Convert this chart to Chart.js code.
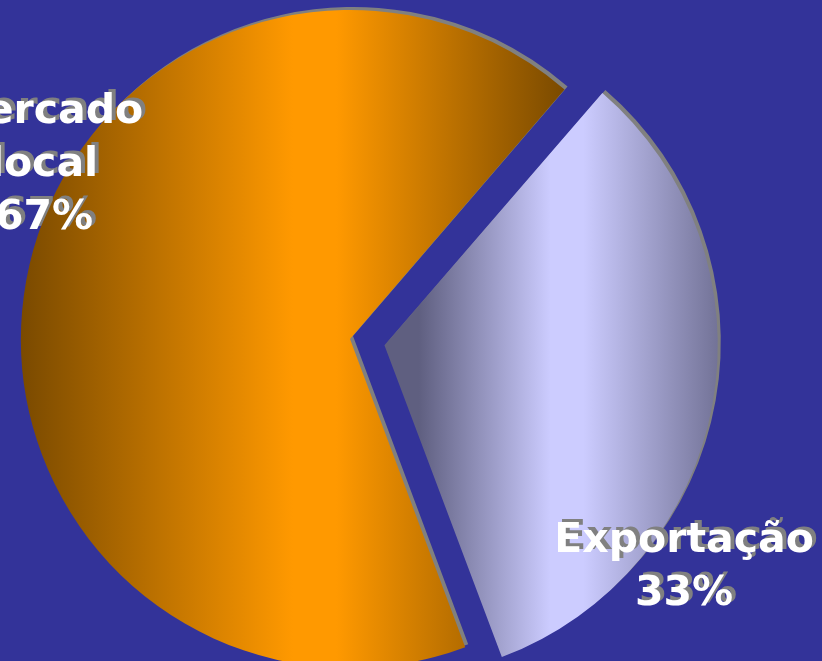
<!DOCTYPE html>
<html>
<head>
<meta charset="utf-8">
<script src="https://cdn.jsdelivr.net/npm/chart.js@4"></script>
<style>
  html, body { margin: 0; padding: 0; background: #333399; overflow: hidden; }
  #wrap { position: relative; width: 822px; height: 661px; }
</style>
</head>
<body>
<div id="wrap"><canvas id="pie"></canvas></div>
<script>
// chart data
const categories = ['Mercado local', 'Exportação'];
const values = [67, 33];
const labelLines = [['Mercado', 'local'], ['Exportação']];

// look
const bgColor = '#333399';
const shadowColor = '#808080';
const edgeColors = ['#7A4A00', '#5F5F80'];
const midColors = ['#FF9900', '#CCCCFF'];
const lightStops = [[0.5, 0.58], [0.4, 0.5]];
const explode = [0, 140];          // chart.js moves the slice by offset/4
const pieRadius = 329;
const startRotation = 159.5;       // degrees, clockwise from 12 o'clock
const labelAnchors = [[44, 123], [684, 552]];   // first baseline of each label
const lineHeight = 53;

const total = values.reduce((a, b) => a + b, 0);

// horizontal gradient over each slice's own bounding box
function sliceGradient(chart, i) {
    const ca = chart.chartArea;
    if (!ca) return midColors[i];
    const cx = (ca.left + ca.right) / 2;
    let before = 0;
    for (let k = 0; k < i; k++) before += values[k];
    const a0 = -Math.PI / 2 + startRotation * Math.PI / 180 + before / total * 2 * Math.PI;
    const a1 = a0 + values[i] / total * 2 * Math.PI;
    const mid = (a0 + a1) / 2;
    const sx = cx + Math.cos(mid) * explode[i] / 4;
    let minX = sx, maxX = sx;
    for (let s = 0; s <= 60; s++) {
        const a = a0 + (a1 - a0) * s / 60;
        const x = sx + Math.cos(a) * pieRadius;
        minX = Math.min(minX, x);
        maxX = Math.max(maxX, x);
    }
    const g = chart.ctx.createLinearGradient(minX, 0, maxX, 0);
    g.addColorStop(0, edgeColors[i]);
    g.addColorStop(lightStops[i][0], midColors[i]);
    g.addColorStop(lightStops[i][1], midColors[i]);
    g.addColorStop(1, edgeColors[i]);
    return g;
}

const backdrop = {
    id: 'backdrop',
    beforeDraw(chart) {
        const ctx = chart.ctx;
        ctx.save();
        ctx.fillStyle = bgColor;
        ctx.fillRect(0, 0, chart.width, chart.height);
        ctx.restore();
    },
    beforeDatasetsDraw(chart) {
        const ctx = chart.ctx;
        ctx.save();
        ctx.shadowColor = shadowColor;
        ctx.shadowOffsetX = 3;
        ctx.shadowOffsetY = -3;
        ctx.shadowBlur = 0;
    },
    afterDatasetsDraw(chart) {
        const ctx = chart.ctx;
        ctx.restore();
        // slice labels
        ctx.save();
        ctx.font = 'bold 41px "DejaVu Sans"';
        ctx.textAlign = 'center';
        ctx.textBaseline = 'alphabetic';
        ctx.fillStyle = '#ffffff';
        ctx.shadowColor = shadowColor;
        ctx.shadowOffsetX = 4;
        ctx.shadowOffsetY = -3;
        ctx.shadowBlur = 0;
        values.forEach((v, i) => {
            const lines = labelLines[i].concat([Math.round(v / total * 100) + '%']);
            const [x, y] = labelAnchors[i];
            lines.forEach((t, j) => ctx.fillText(t, x, y + j * lineHeight));
        });
        ctx.restore();
    }
};

new Chart(document.getElementById('pie'), {
    type: 'pie',
    data: {
        labels: categories,
        datasets: [{
            data: values,
            backgroundColor: (c) => sliceGradient(c.chart, c.dataIndex),
            borderWidth: 0,
            offset: explode,
            hoverOffset: 0
        }]
    },
    options: {
        responsive: true,
        maintainAspectRatio: false,
        animation: false,
        radius: pieRadius,
        rotation: startRotation,
        layout: {
            padding: { top: 17, left: 0, right: 122, bottom: 0 }
        },
        plugins: {
            legend: { display: false },
            tooltip: { enabled: false }
        },
        events: []
    },
    plugins: [backdrop]
});
</script>
</body>
</html>
